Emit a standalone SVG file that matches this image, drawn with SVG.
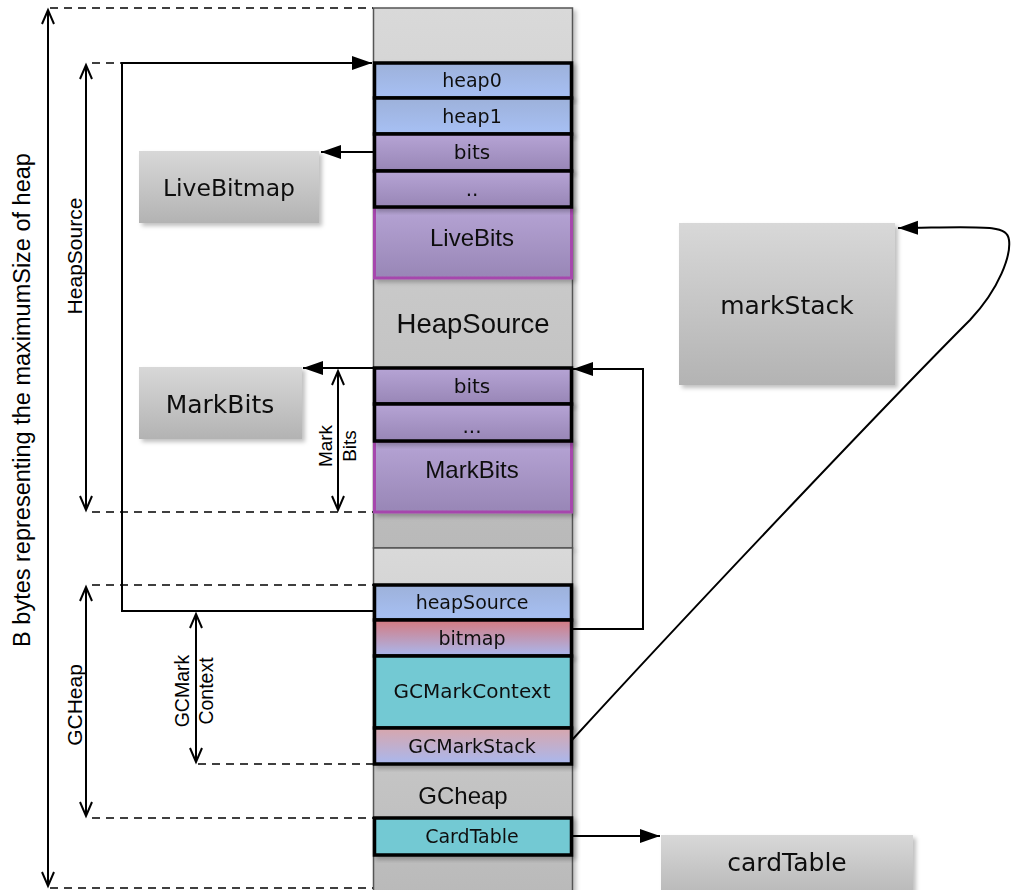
<svg xmlns="http://www.w3.org/2000/svg" width="1011" height="890" viewBox="0 0 1011 890">
  <defs>
    <style>
      .blk { stroke: #555; stroke-width: 1.5; }
      .cell { stroke: #000; stroke-width: 3.5; }
      .region { stroke: #a646ad; stroke-width: 3; }
      .ct { font-family: "DejaVu Sans", sans-serif; font-size: 19px; fill: #111; text-anchor: middle; }
      .ca { font-family: "Liberation Sans", Arial, sans-serif; font-size: 24px; fill: #111; text-anchor: middle; }
      .bt { font-family: "DejaVu Sans", sans-serif; font-size: 25px; fill: #111; text-anchor: middle; }
      .dim { font-family: "Liberation Sans", Arial, sans-serif; font-size: 21px; fill: #000; text-anchor: middle; }
      .conn { fill: none; stroke: #000; stroke-width: 2; }
      .dash { fill: none; stroke: #000; stroke-width: 1.5; stroke-dasharray: 8 6; }
      .span { fill: none; stroke: #000; stroke-width: 2; marker-start: url(#open); marker-end: url(#open); }
    </style>
    <linearGradient id="gBlock" x1="0" y1="0" x2="0" y2="1">
      <stop offset="0" stop-color="#d9d9d9"/>
      <stop offset="1" stop-color="#b9b9b9"/>
    </linearGradient>
    <linearGradient id="gBox" x1="0" y1="0" x2="0" y2="1">
      <stop offset="0" stop-color="#d8d8d8"/>
      <stop offset="1" stop-color="#b3b3b3"/>
    </linearGradient>
    <linearGradient id="gBlue" x1="0" y1="0" x2="0" y2="1">
      <stop offset="0" stop-color="#9db1da"/>
      <stop offset="1" stop-color="#a7c0f4"/>
    </linearGradient>
    <linearGradient id="gPurple" x1="0" y1="0" x2="0" y2="1">
      <stop offset="0" stop-color="#b6a4d5"/>
      <stop offset="1" stop-color="#9886b6"/>
    </linearGradient>
    <linearGradient id="gBitmap" x1="0" y1="0" x2="0" y2="1">
      <stop offset="0" stop-color="#d47a80"/>
      <stop offset="1" stop-color="#a9b8ee"/>
    </linearGradient>
    <linearGradient id="gStack" x1="0" y1="0" x2="0" y2="1">
      <stop offset="0" stop-color="#d8a6ac"/>
      <stop offset="1" stop-color="#a9b8ee"/>
    </linearGradient>
    <filter id="shadow" x="-10%" y="-10%" width="130%" height="130%">
      <feDropShadow dx="3" dy="3" stdDeviation="2" flood-color="#000" flood-opacity="0.25"/>
    </filter>
    <marker id="fill" markerUnits="userSpaceOnUse" markerWidth="22" markerHeight="16" refX="20" refY="7" orient="auto">
      <path d="M0,0 L20,7 L0,14 z" fill="#000"/>
    </marker>
    <marker id="open" markerUnits="userSpaceOnUse" markerWidth="18" markerHeight="16" refX="15" refY="7" orient="auto-start-reverse">
      <path d="M1,1 L15,7 L1,13" fill="none" stroke="#000" stroke-width="2"/>
    </marker>
  </defs>

  <rect width="1011" height="890" fill="#fff"/>

  <!-- memory column: two backing blocks -->
  <g id="heapSourceBlock" filter="url(#shadow)">
    <rect class="blk" x="373.5" y="8" width="199" height="540" fill="url(#gBlock)"/>
    <text class="ca" x="473" y="333" style="font-size:27.5px">HeapSource</text>
  </g>
  <g id="gcHeapBlock" filter="url(#shadow)">
    <rect class="blk" x="373.5" y="548" width="199" height="350" fill="url(#gBlock)"/>
    <text class="ca" x="463" y="804">GCheap</text>
  </g>

  <!-- HeapSource contents -->
  <g id="liveBits" filter="url(#shadow)">
    <rect class="region" x="374.5" y="207" width="197" height="71" fill="url(#gPurple)"/>
    <text class="ca" x="472" y="246">LiveBits</text>
  </g>
  <g id="heap0" filter="url(#shadow)">
    <rect class="cell" x="374.5" y="63" width="197" height="35" fill="url(#gBlue)"/>
    <text class="ct" x="472" y="87">heap0</text>
  </g>
  <g id="heap1" filter="url(#shadow)">
    <rect class="cell" x="374.5" y="98" width="197" height="36" fill="url(#gBlue)"/>
    <text class="ct" x="472" y="123">heap1</text>
  </g>
  <g id="liveBitsPtr" filter="url(#shadow)">
    <rect class="cell" x="374.5" y="134" width="197" height="37" fill="url(#gPurple)"/>
    <text class="ct" x="472" y="159" style="font-size:20px">bits</text>
  </g>
  <g id="liveMore" filter="url(#shadow)">
    <rect class="cell" x="374.5" y="171" width="197" height="36" fill="url(#gPurple)"/>
    <text class="ct" x="472" y="196" style="font-size:20px">..</text>
  </g>

  <g id="markBits" filter="url(#shadow)">
    <rect class="region" x="374.5" y="441" width="197" height="71" fill="url(#gPurple)"/>
    <text class="ca" x="472" y="478">MarkBits</text>
  </g>
  <g id="markBitsPtr" filter="url(#shadow)">
    <rect class="cell" x="374.5" y="368" width="197" height="36" fill="url(#gPurple)"/>
    <text class="ct" x="472" y="393" style="font-size:20px">bits</text>
  </g>
  <g id="markMore" filter="url(#shadow)">
    <rect class="cell" x="374.5" y="404" width="197" height="37" fill="url(#gPurple)"/>
    <text class="ct" x="472" y="433" style="font-size:20px">...</text>
  </g>

  <!-- GCHeap contents -->
  <g id="heapSource" filter="url(#shadow)">
    <rect class="cell" x="374.5" y="585" width="197" height="35" fill="url(#gBlue)"/>
    <text class="ct" x="472" y="609">heapSource</text>
  </g>
  <g id="bitmap" filter="url(#shadow)">
    <rect class="cell" x="374.5" y="620" width="197" height="36" fill="url(#gBitmap)"/>
    <text class="ct" x="472" y="645">bitmap</text>
  </g>
  <g id="gcMarkContext" filter="url(#shadow)">
    <rect class="cell" x="374.5" y="656" width="197" height="72" fill="#73c9d3"/>
    <text class="ct" x="472" y="698" style="font-size:20px">GCMarkContext</text>
  </g>
  <g id="gcMarkStack" filter="url(#shadow)">
    <rect class="cell" x="374.5" y="728" width="197" height="36" fill="url(#gStack)"/>
    <text class="ct" x="472" y="753">GCMarkStack</text>
  </g>
  <g id="cardTableCell" filter="url(#shadow)">
    <rect class="cell" x="374.5" y="818" width="197" height="37" fill="#73c9d3"/>
    <text class="ct" x="472" y="843">CardTable</text>
  </g>

  <!-- standalone structures -->
  <g id="liveBitmap" filter="url(#shadow)">
    <rect x="139" y="151" width="180" height="72" fill="url(#gBox)"/>
    <text class="bt" x="229" y="196" style="font-size:23.5px">LiveBitmap</text>
  </g>
  <g id="markBitsBox" filter="url(#shadow)">
    <rect x="139" y="367" width="163" height="72" fill="url(#gBox)"/>
    <text class="bt" x="220" y="413">MarkBits</text>
  </g>
  <g id="markStack" filter="url(#shadow)">
    <rect x="679" y="223" width="216" height="162" fill="url(#gBox)"/>
    <text class="bt" x="787" y="314">markStack</text>
  </g>
  <g id="cardTable" filter="url(#shadow)">
    <rect x="661" y="835" width="252" height="70" fill="url(#gBox)"/>
    <text class="bt" x="787" y="871">cardTable</text>
  </g>

  <!-- extent markers -->
  <g id="extents">
    <path class="dash" d="M50,8 H373"/>
    <path class="dash" d="M50,888 H373"/>
    <path class="dash" d="M92,63 H122"/>
    <path class="dash" d="M92,512 H373"/>
    <path class="dash" d="M92,585 H373"/>
    <path class="dash" d="M92,818 H373"/>
    <path class="dash" d="M198,764 H373"/>
    <path class="span" d="M48,10 V886"/>
    <path class="span" d="M86,65 V510"/>
    <path class="span" d="M86,587 V816"/>
    <path class="span" d="M196,614 V762"/>
    <path class="span" d="M338,371 V510"/>
    <text class="dim" transform="translate(30,400) rotate(-90)" style="font-size:23.5px">B bytes representing the maximumSize of heap</text>
    <text class="dim" transform="translate(82,256) rotate(-90)">HeapSource</text>
    <text class="dim" transform="translate(82,705) rotate(-90)">GCHeap</text>
    <text class="dim" transform="translate(189,691) rotate(-90)" style="font-size:19.5px">GCMark</text>
    <text class="dim" transform="translate(213,691) rotate(-90)" style="font-size:19.5px">Context</text>
    <text class="dim" transform="translate(332,446) rotate(-90)" style="font-size:19px">Mark</text>
    <text class="dim" transform="translate(356,446) rotate(-90)" style="font-size:19px">Bits</text>
  </g>

  <!-- pointers -->
  <g id="connectors">
    <path class="conn" d="M373,611 H122 V63 H372" marker-end="url(#fill)"/>
    <path class="conn" d="M373,152 H321" marker-end="url(#fill)"/>
    <path class="conn" d="M572,629 H643 V369 H573" marker-end="url(#fill)"/>
    <path class="conn" d="M373,368 H303" marker-end="url(#fill)"/>
    <path class="conn" d="M572,836 H660" marker-end="url(#fill)"/>
    <path class="conn" d="M572,740 C700,600 900,390 970,320 C1000,288 1011,255 1009,240 C1007,224 985,227 898,228" marker-end="url(#fill)"/>
  </g>
</svg>
